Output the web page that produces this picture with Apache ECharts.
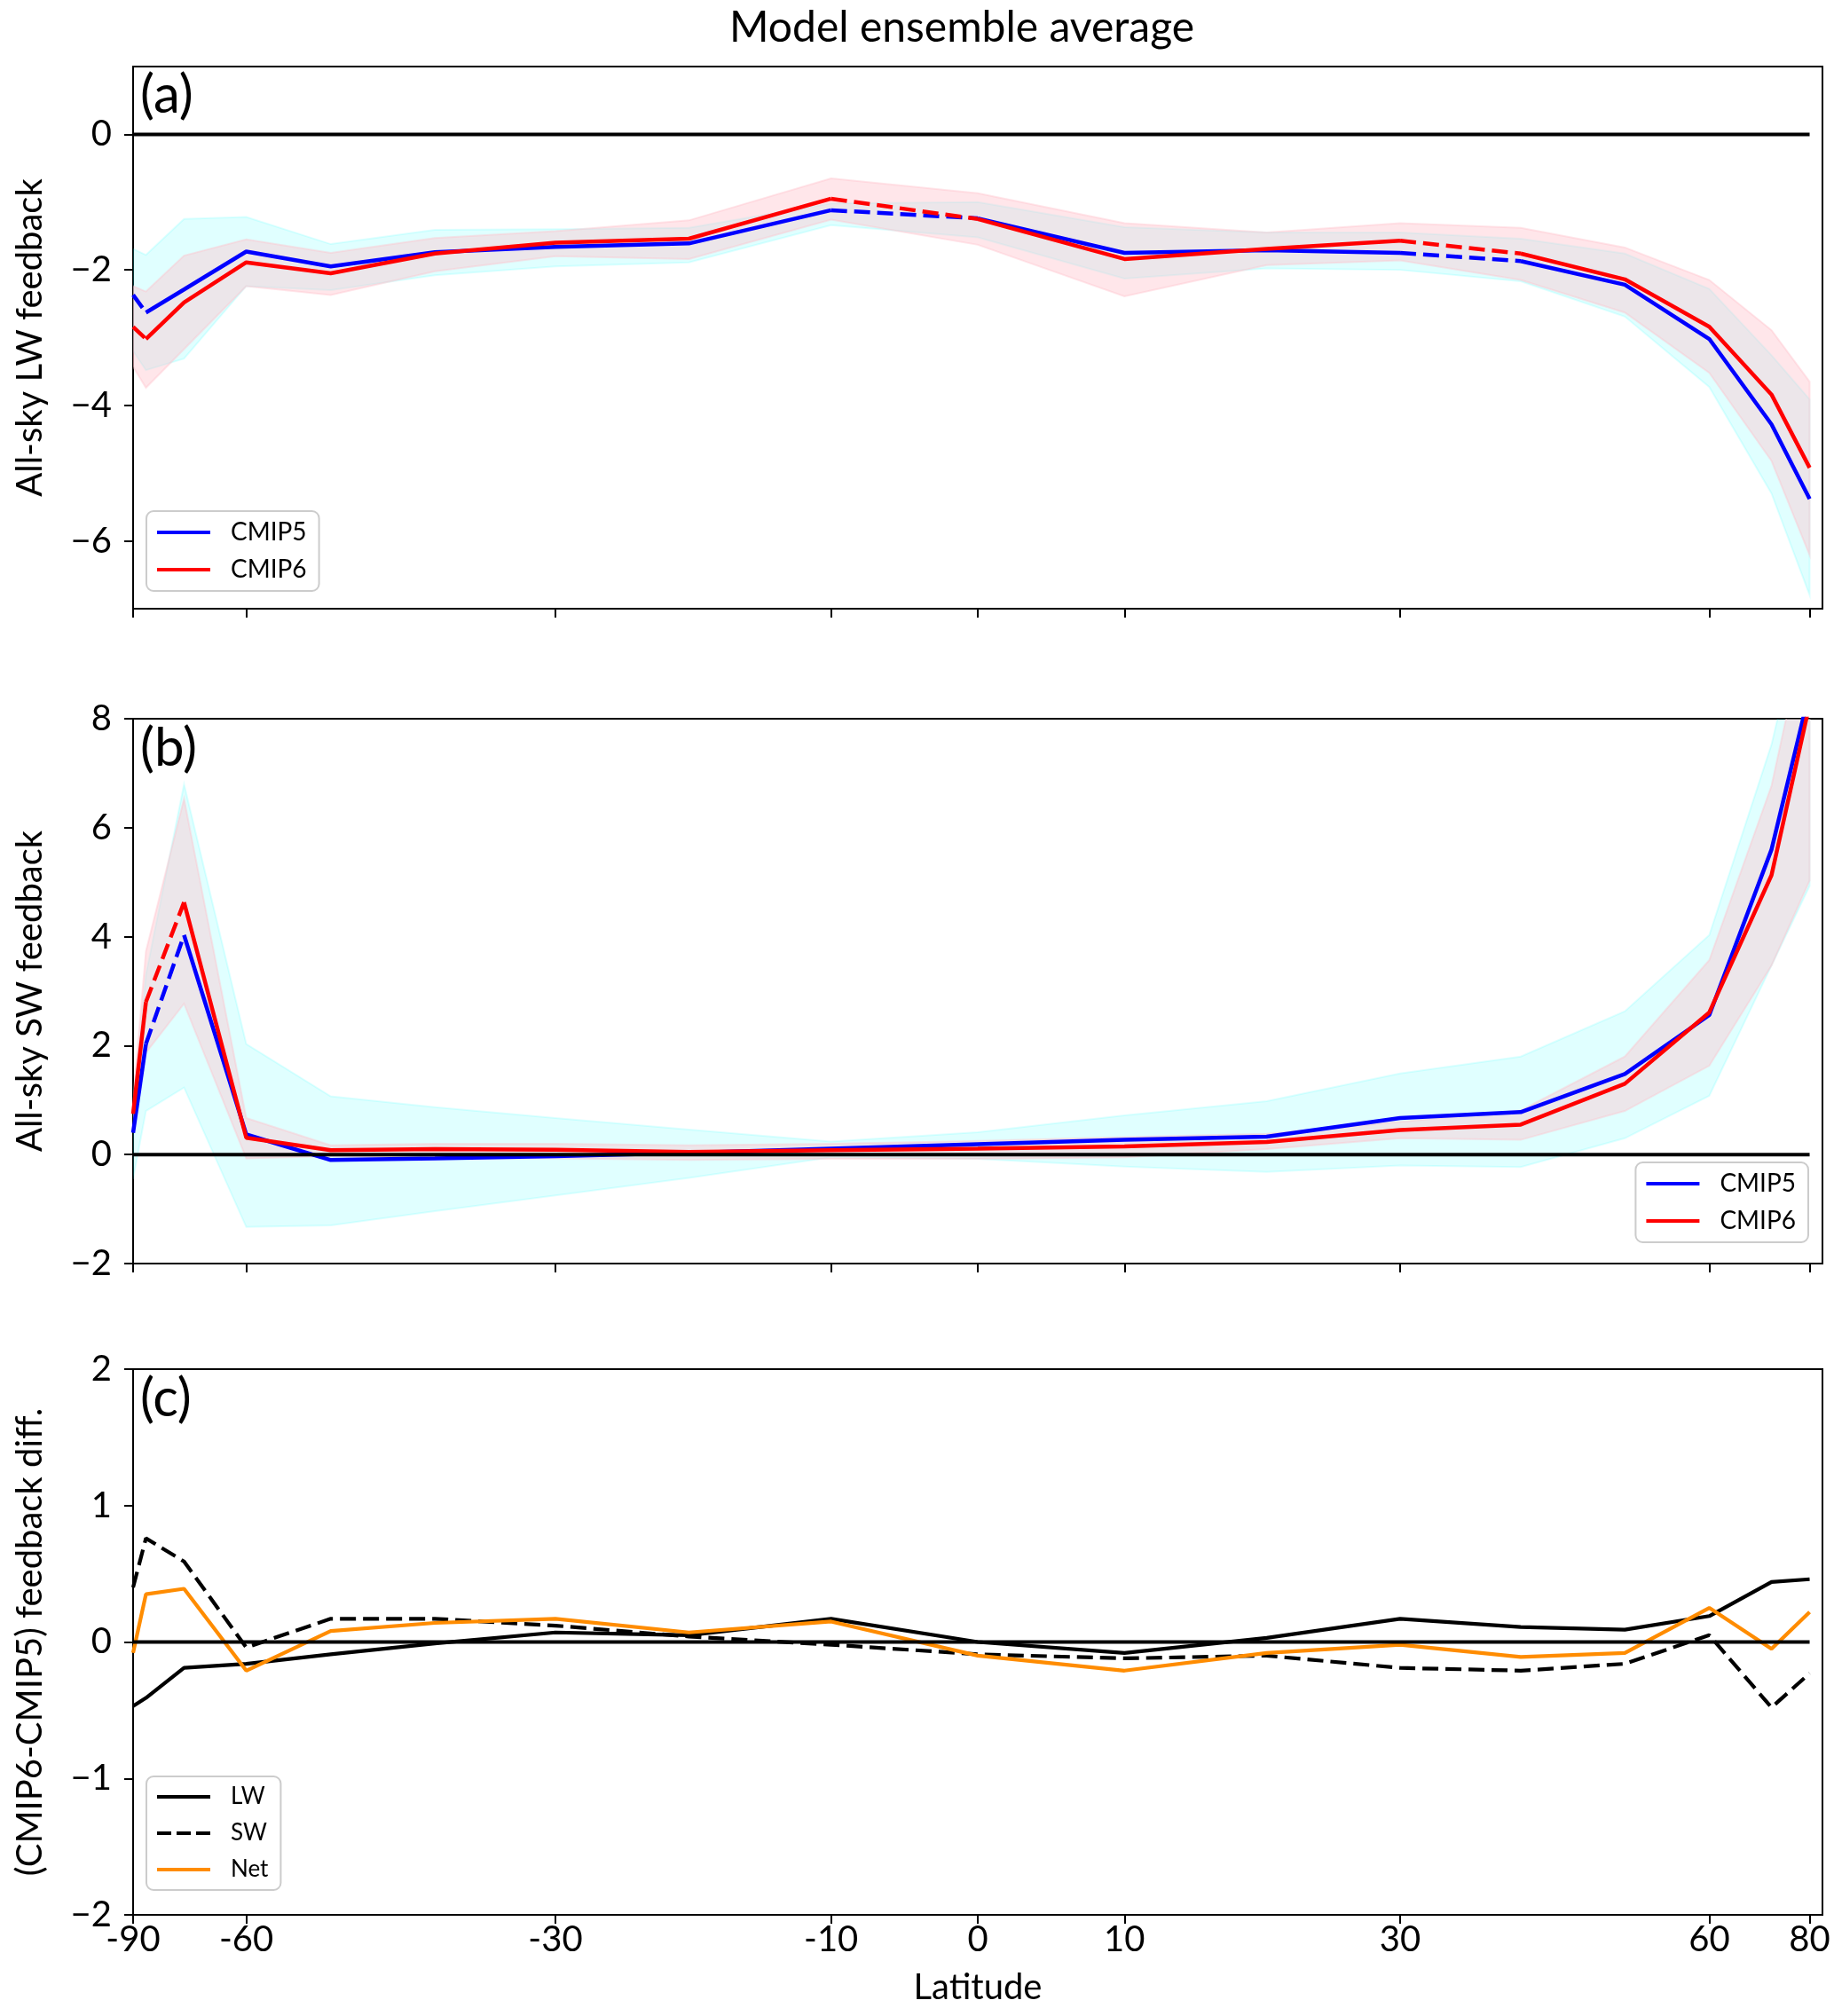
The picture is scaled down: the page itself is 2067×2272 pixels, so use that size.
<!DOCTYPE html>
<html>
<head>
<meta charset="utf-8">
<script src="https://cdn.jsdelivr.net/npm/echarts@6/dist/echarts.min.js"></script>
<style>html,body{margin:0;padding:0;background:#fff}#c{width:2067px;height:2272px}</style>
</head>
<body>
<div id="c"></div>
<script>
// ---- data ----
const LAT = [-90,-80,-70,-60,-50,-40,-30,-20,-10,0,10,20,30,40,50,60,70,80];
const X_TICKS = [-90,-60,-30,-10,0,10,30,60,80];

// panel (a) all-sky LW feedback
const LW_CMIP5 = [-2.37,-2.63,-2.29,-1.73,-1.95,-1.74,-1.66,-1.61,-1.12,-1.24,-1.75,-1.71,-1.75,-1.87,-2.22,-3.02,-4.28,-5.38];
const LW_CMIP6 = [-2.84,-3.02,-2.48,-1.89,-2.05,-1.76,-1.60,-1.54,-0.95,-1.25,-1.84,-1.69,-1.57,-1.76,-2.14,-2.84,-3.84,-4.92];
const LW_CMIP5_HI = [-1.69,-1.78,-1.25,-1.22,-1.62,-1.41,-1.40,-1.38,-1.02,-1.00,-1.37,-1.45,-1.45,-1.54,-1.76,-2.28,-3.26,-3.91];
const LW_CMIP5_LO = [-3.20,-3.48,-3.31,-2.24,-2.30,-2.08,-1.95,-1.89,-1.34,-1.52,-2.13,-1.98,-2.00,-2.17,-2.69,-3.73,-5.30,-6.80];
const LW_CMIP6_HI = [-2.24,-2.32,-1.79,-1.55,-1.75,-1.53,-1.43,-1.27,-0.65,-0.87,-1.31,-1.45,-1.31,-1.38,-1.67,-2.15,-2.89,-3.65];
const LW_CMIP6_LO = [-3.43,-3.74,-3.17,-2.24,-2.37,-2.02,-1.80,-1.84,-1.26,-1.63,-2.39,-1.93,-1.86,-2.15,-2.63,-3.52,-4.82,-6.21];
const LW_DASHED = [0, 8, 12];   // segment start indices drawn dashed

// panel (b) all-sky SW feedback
const SW_CMIP5 = [0.40,2.03,4.03,0.37,-0.10,-0.07,-0.03,0.03,0.11,0.19,0.27,0.33,0.67,0.78,1.48,2.56,5.60,8.50];
const SW_CMIP6 = [0.75,2.80,4.63,0.31,0.08,0.10,0.09,0.05,0.08,0.11,0.15,0.23,0.45,0.55,1.30,2.61,5.13,8.27];
const SW_CMIP5_HI = [0.80,3.30,6.80,2.03,1.07,0.87,0.67,0.46,0.24,0.41,0.72,0.98,1.49,1.80,2.63,4.03,7.53,10.5];
const SW_CMIP5_LO = [-0.45,0.80,1.23,-1.33,-1.30,-1.04,-0.75,-0.43,-0.05,-0.08,-0.22,-0.32,-0.20,-0.23,0.30,1.08,3.47,4.93];
const SW_CMIP6_HI = [1.00,3.73,6.53,0.67,0.17,0.20,0.20,0.17,0.20,0.25,0.32,0.38,0.60,0.81,1.80,3.57,6.77,10.0];
const SW_CMIP6_LO = [0.50,1.87,2.77,-0.07,-0.03,-0.07,-0.07,-0.10,-0.08,-0.08,-0.05,0.10,0.30,0.27,0.80,1.63,3.47,5.03];
const SW_DASHED = [1];

// panel (c) CMIP6-CMIP5 feedback difference
const DIFF_LW  = [-0.47,-0.41,-0.19,-0.16,-0.09,-0.01,0.07,0.05,0.17,0.00,-0.08,0.03,0.17,0.11,0.09,0.19,0.44,0.46];
const DIFF_SW  = [0.40,0.76,0.59,-0.04,0.17,0.17,0.12,0.04,-0.02,-0.09,-0.12,-0.10,-0.19,-0.21,-0.16,0.05,-0.48,-0.23];
const DIFF_NET = [-0.08,0.35,0.39,-0.21,0.08,0.14,0.17,0.07,0.15,-0.10,-0.21,-0.08,-0.02,-0.11,-0.08,0.25,-0.05,0.22];

// ---- helpers ----
const FONT = 'Lato';
const BLUE = '#0000ff', RED = '#ff0000', ORANGE = '#ff8c00', BLACK = '#000000';
const CYAN_FILL = 'rgba(0,255,255,0.12)';
const PINK_FILL = 'rgba(255,192,203,0.40)';
const sinLat = d => Math.sin(d * Math.PI / 180);
const TICK_POS = X_TICKS.map(sinLat);
const pts = vals => LAT.map((d, i) => [sinLat(d), vals[i]]);

function lineSeries(name, g, vals, dashed, color, width) {
  const solid = [], dash = [];
  let run = [[sinLat(LAT[0]), vals[0]]];
  for (let i = 0; i < LAT.length - 1; i++) {
    const p0 = [sinLat(LAT[i]), vals[i]], p1 = [sinLat(LAT[i + 1]), vals[i + 1]];
    if (dashed.indexOf(i) >= 0) {
      if (run.length > 1) solid.push(run);
      dash.push([p0, p1]);
      run = [p1];
    } else run.push(p1);
  }
  if (run.length > 1) solid.push(run);
  const mk = (data, type) => ({
    type: 'line', name, xAxisIndex: g, yAxisIndex: g, data, symbol: 'none', z: 3,
    silent: true, animation: false, clip: true,
    lineStyle: { color, width, type: type === 'dashed' ? [18, 8] : 'solid' },
    itemStyle: { color }
  });
  return solid.map(d => mk(d, 'solid')).concat(dash.map(d => mk(d, 'dashed')));
}

function fullLine(name, g, vals, color, width, type) {
  return {
    type: 'line', name, xAxisIndex: g, yAxisIndex: g, data: pts(vals), symbol: 'none', z: 3,
    silent: true, animation: false,
    lineStyle: { color, width, type: type === 'dashed' ? [18, 8] : 'solid' },
    itemStyle: { color }
  };
}

function band(name, g, lo, hi, fill, z) {
  return {
    type: 'custom', name, xAxisIndex: g, yAxisIndex: g, silent: true, animation: false, z,
    data: [[0, 0]],
    renderItem(params, api) {
      const p = [];
      for (let i = 0; i < LAT.length; i++) p.push(api.coord([sinLat(LAT[i]), hi[i]]));
      for (let i = LAT.length - 1; i >= 0; i--) p.push(api.coord([sinLat(LAT[i]), lo[i]]));
      const cs = params.coordSys;
      return {
        type: 'polygon', shape: { points: p },
        style: { fill, stroke: fill, lineWidth: 2 },
        clipPath: { type: 'rect', shape: { x: cs.x, y: cs.y, width: cs.width, height: cs.height } }
      };
    }
  };
}

function zeroLine(g) {
  return {
    type: 'line', name: 'zero' + g, xAxisIndex: g, yAxisIndex: g, symbol: 'none', z: 4,
    silent: true, animation: false,
    data: [[sinLat(-90), 0], [sinLat(80), 0]],
    lineStyle: { color: BLACK, width: 4 }
  };
}

function xAxis(g, showLabels) {
  return {
    type: 'value', gridIndex: g, min: -1, max: 1,
    axisLine: { show: true, onZero: false, lineStyle: { color: BLACK, width: 2 } },
    axisTick: { show: true, customValues: TICK_POS, length: 10, lineStyle: { color: BLACK, width: 2 } },
    axisLabel: {
      show: showLabels, customValues: TICK_POS, margin: 8,
      formatter: v => String(Math.round(Math.asin(v) * 180 / Math.PI)),
      fontSize: 40, color: BLACK, fontFamily: FONT
    },
    splitLine: { show: false },
    name: showLabels ? 'Latitude' : '', nameLocation: 'middle', nameGap: 62,
    nameTextStyle: { fontSize: 40, color: BLACK, fontFamily: FONT }
  };
}

const minus = v => String(v).replace('-', '\u2212');
function yAxis(g, min, max, ticks, name) {
  return {
    type: 'value', gridIndex: g, min, max,
    axisLine: { show: true, onZero: false, lineStyle: { color: BLACK, width: 2 } },
    axisTick: { show: true, customValues: ticks, length: 10, lineStyle: { color: BLACK, width: 2 } },
    axisLabel: { customValues: ticks, formatter: minus, fontSize: 40, color: BLACK, margin: 24, fontFamily: FONT },
    splitLine: { show: false },
    name, nameLocation: 'middle', nameGap: 96,
    nameTextStyle: { fontSize: 40, color: BLACK, fontFamily: FONT }
  };
}

const SOLID_ICON = 'path://M0,0H60V4H0Z';
const DASH_ICON = 'path://M0,0H16V4H0Z M22,0H38V4H22Z M44,0H60V4H44Z';
function legend(items, pos) {
  return Object.assign({
    orient: 'vertical', selectedMode: false,
    data: items.map(it => ({ name: it[0], icon: it[2] || SOLID_ICON, itemStyle: { color: it[1], borderWidth: 0 } })),
    itemWidth: 60, itemHeight: 4, itemGap: 14,
    padding: [10, 14, 10, 12],
    backgroundColor: '#ffffff', borderColor: '#cccccc', borderWidth: 2, borderRadius: 8,
    textStyle: { fontSize: 28, color: BLACK, fontFamily: FONT, padding: [0, 0, 0, 18] }
  }, pos);
}

const chart = echarts.init(document.getElementById('c'), null, { renderer: 'canvas' });
const GRID_L = 150, GRID_W = 1904;
const LABEL_STYLE = { fontSize: 60, fontWeight: 'normal', color: BLACK, fontFamily: FONT };
chart.setOption({
  backgroundColor: '#ffffff',
  animation: false,
  title: [
    { text: 'Model ensemble average', left: 822, top: 8, padding: 0, textStyle: { fontSize: 48, fontWeight: 'normal', color: BLACK, fontFamily: FONT } },
    { text: '(a)', left: 158, top: 78, padding: 0, textStyle: LABEL_STYLE },
    { text: '(b)', left: 158, top: 814, padding: 0, textStyle: LABEL_STYLE },
    { text: '(c)', left: 158, top: 1547, padding: 0, textStyle: LABEL_STYLE }
  ],
  grid: [
    { left: GRID_L, top: 75, width: GRID_W, height: 611, show: true, borderColor: BLACK, borderWidth: 2, backgroundColor: 'transparent' },
    { left: GRID_L, top: 810, width: GRID_W, height: 614, show: true, borderColor: BLACK, borderWidth: 2, backgroundColor: 'transparent' },
    { left: GRID_L, top: 1543, width: GRID_W, height: 615, show: true, borderColor: BLACK, borderWidth: 2, backgroundColor: 'transparent' }
  ],
  xAxis: [xAxis(0, false), xAxis(1, false), xAxis(2, true)],
  yAxis: [
    yAxis(0, -7, 1, [-6, -4, -2, 0], 'All-sky LW feedback'),
    yAxis(1, -2, 8, [-2, 0, 2, 4, 6, 8], 'All-sky SW feedback'),
    yAxis(2, -2, 2, [-2, -1, 0, 1, 2], '(CMIP6-CMIP5) feedback diff.')
  ],
  legend: [
    legend([['CMIP5', BLUE], ['CMIP6', RED]], { left: 165, top: 576 }),
    legend([['CMIP5', BLUE], ['CMIP6', RED]], { right: 29, top: 1310 }),
    legend([['LW', BLACK], ['SW', BLACK, DASH_ICON], ['Net', ORANGE]], { left: 165, top: 2002, textStyle: { fontSize: 26, color: BLACK, fontFamily: FONT, padding: [0, 0, 0, 18] }, itemGap: 15 })
  ],
  series: [].concat(
    band('bandA5', 0, LW_CMIP5_LO, LW_CMIP5_HI, CYAN_FILL, 1),
    band('bandA6', 0, LW_CMIP6_LO, LW_CMIP6_HI, PINK_FILL, 2),
    lineSeries('CMIP5', 0, LW_CMIP5, LW_DASHED, BLUE, 4.5),
    lineSeries('CMIP6', 0, LW_CMIP6, LW_DASHED, RED, 4.5),
    zeroLine(0),
    band('bandB5', 1, SW_CMIP5_LO, SW_CMIP5_HI, CYAN_FILL, 1),
    band('bandB6', 1, SW_CMIP6_LO, SW_CMIP6_HI, PINK_FILL, 2),
    lineSeries('CMIP5', 1, SW_CMIP5, SW_DASHED, BLUE, 4.5),
    lineSeries('CMIP6', 1, SW_CMIP6, SW_DASHED, RED, 4.5),
    zeroLine(1),
    zeroLine(2),
    fullLine('LW', 2, DIFF_LW, BLACK, 4.2, 'solid'),
    fullLine('SW', 2, DIFF_SW, BLACK, 4.2, 'dashed'),
    fullLine('Net', 2, DIFF_NET, ORANGE, 4.2, 'solid')
  )
});
</script>
</body>
</html>
